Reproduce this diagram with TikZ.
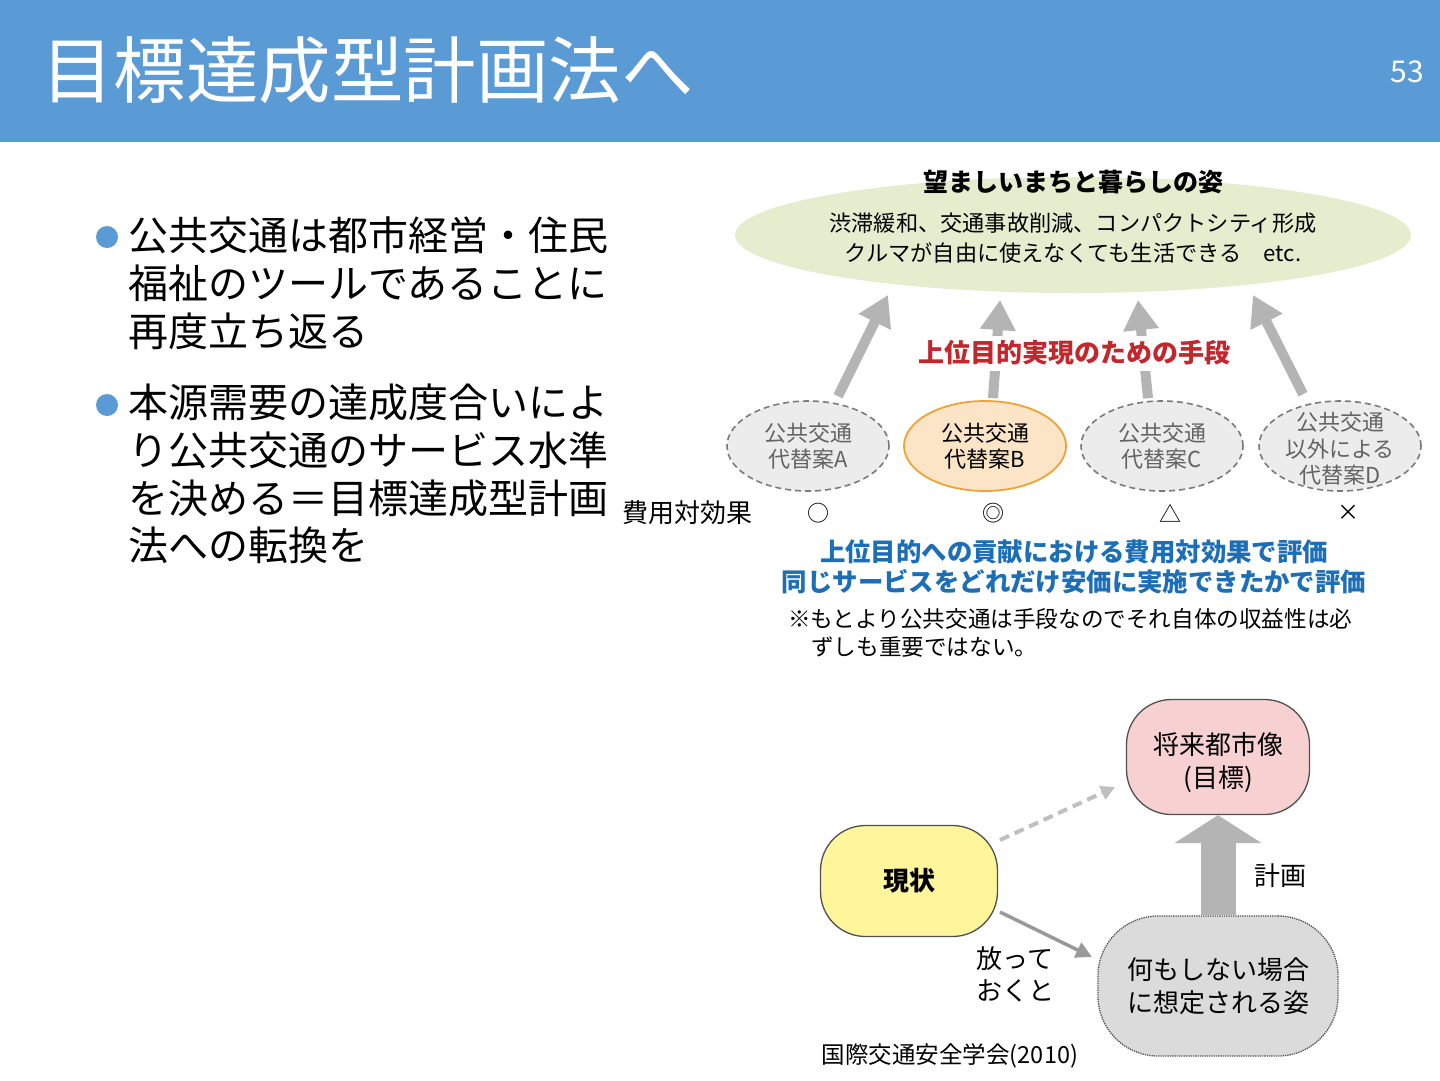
\documentclass[tikz,border=0pt]{standalone}
\usepackage{fontspec}
\setmainfont{Noto Sans CJK JP}
\usetikzlibrary{arrows.meta,shapes.geometric}
\definecolor{barblue}{HTML}{5B9BD5}
\definecolor{greenfill}{HTML}{E6EDCF}
\definecolor{arrgray}{HTML}{B4B4B4}
\definecolor{altfill}{HTML}{ECECEC}
\definecolor{altline}{HTML}{7A7A7A}
\definecolor{alttext}{HTML}{636363}
\definecolor{bfill}{HTML}{FCE4C6}
\definecolor{bline}{HTML}{EFA236}
\definecolor{redtxt}{HTML}{C1272D}
\definecolor{bluetxt}{HTML}{1C6EB6}
\definecolor{pinkfill}{HTML}{F7D1D2}
\definecolor{yelfill}{HTML}{FFF59B}
\definecolor{grayfill}{HTML}{DBDBDB}
\definecolor{blobline}{HTML}{505050}
\tikzset{
  fs/.style 2 args={font=\fontsize{#1}{#2}\selectfont},
  altell/.style={ellipse, draw=altline, dashed, dash pattern=on 6pt off 4pt, line width=1.6pt, fill=altfill,
    text=alttext, minimum width=162pt, minimum height=90pt, inner sep=0pt, align=center, fs={22}{26}},
  uparrow/.style={draw=arrgray, line width=10pt, -{Triangle[width=34pt,length=30pt]}},
  blob/.style={rectangle, rounded corners=45pt, draw=blobline, line width=1.3pt, align=center, inner sep=0pt},
  plain/.style={inner sep=0pt, align=center}
}
\begin{document}
\begin{tikzpicture}[x=1pt,y=-1pt]
\useasboundingbox (0,0) rectangle (1440,1080);
\fill[white] (0,0) rectangle (1440,1080);
% title bar
\fill[barblue] (0,0) rectangle (1440,142);
\node[plain, anchor=west, text=white, fs={72.5}{80}] (title) at (41,70) {目標達成型計画法へ};
\node[plain, anchor=east, text=white, fs={30}{34}] (pnum) at (1424,72) {53};
% bullets
\fill[barblue] (107,237) circle (11);
\fill[barblue] (107,405) circle (11);
\node[plain, anchor=north west, align=left, fs={40}{48}] (b1) at (128,216) {公共交通は都市経営・住民\\福祉のツールであることに\\再度立ち返る};
\node[plain, anchor=north west, align=left, fs={40}{47.7}] (b2) at (128,384) {本源需要の達成度合いによ\\り公共交通のサービス水準\\を決める＝目標達成型計画\\法への転換を};
% top ellipse
\node[ellipse, fill=greenfill, minimum width=676pt, minimum height=116pt, inner sep=0pt] (goal) at (1073,235) {};
\node[plain, font=\fontsize{25}{28}\selectfont\bfseries] (goaltitle) at (1073,182) {望ましいまちと暮らしの姿};
\node[plain, fs={22.2}{30}] (goaltext) at (1073,238) {渋滞緩和、交通事故削減、コンパクトシティ形成\\クルマが自由に使えなくても生活できる　etc.};
% alternatives
\node[altell] (A) at (808,446) {公共交通\\代替案A};
\node[ellipse, draw=bline, line width=1.8pt, fill=bfill, minimum width=162pt, minimum height=90pt, inner sep=0pt, align=center, fs={22}{26}] (B) at (985,446) {公共交通\\代替案B};
\node[altell] (C) at (1162,446) {公共交通\\代替案C};
\node[altell] (D) at (1340,446) {};
\node[plain, text=alttext, fs={22}{26.5}] (Dtext) at ([yshift=-3pt]D.center) {公共交通\\以外による\\代替案D};
% arrows up
\coordinate (gA) at (888,295);
\coordinate (gB) at (1000,300);
\coordinate (gC) at (1138,300);
\coordinate (gD) at (1253,295);
\draw[uparrow] (A.north) ++(30,-4) coordinate (sA) (sA) -- (gA);
\draw[uparrow] (B.north) ++(8,-2) coordinate (sB) (sB) -- (gB);
\draw[uparrow] (C.north) ++(-14,-2) coordinate (sC) (sC) -- (gC);
\draw[uparrow] (D.north) ++(-37,-6) coordinate (sD) (sD) -- (gD);
\node[plain, fill=white, inner xsep=2pt, inner ysep=5pt, text=redtxt, font=\fontsize{26}{28}\selectfont\bfseries] (means) at (1074,353) {上位目的実現のための手段};
% cost effectiveness
\node[plain, fs={26}{28}] (ce) at (687,513) {費用対効果};
\node[plain, fs={22}{26}] (sA2) at (818,513) {○};
\node[plain, fs={22}{26}] (sB2) at (993,513) {◎};
\node[plain, fs={22}{26}] (sC2) at (1170,513) {△};
\node[plain, fs={22}{26}] (sD2) at (1348,513) {×};
\node[plain, text=bluetxt, font=\fontsize{25.4}{29.5}\selectfont\bfseries] (eval) at (1074,567) {上位目的への貢献における費用対効果で評価\\同じサービスをどれだけ安価に実施できたかで評価};
\node[plain, anchor=north west, align=left, fs={22.6}{28}] (note) at (788,608) {※もとより公共交通は手段なのでそれ自体の収益性は必\\\hspace*{23pt}ずしも重要ではない。};
% bottom diagram
\node[blob, fill=pinkfill, minimum width=183pt, minimum height=115pt] (future) at (1218,757) {};
\node[plain, fs={26}{33}] (futuretext) at ([yshift=-6pt]future.center) {将来都市像\\(目標)};
\node[blob, fill=yelfill, minimum width=177pt, minimum height=111pt, font=\fontsize{26}{30}\selectfont\bfseries] (now) at (909,881) {現状};
\node[blob, fill=grayfill, draw=blobline, densely dotted, rounded corners=60pt, minimum width=240pt, minimum height=140pt, fs={26}{33}] (none) at (1218,986) {何もしない場合\\に想定される姿};
\coordinate (dstart) at (1000,840);
\coordinate (dend) at (1115,787);
\draw[draw=arrgray!85, line width=4pt, dash pattern=on 10pt off 6pt, -{Triangle[width=14pt,length=14pt]}] (dstart) -- (dend);
\coordinate (sstart) at (1000,912);
\coordinate (send) at (1092,957);
\draw[draw=gray!80, line width=3.5pt, -{Triangle[width=16pt,length=16pt]}] (sstart) -- (send);
\draw[draw=arrgray, line width=35pt, -{Triangle[width=86pt,length=28pt]}] (none.north) -- (future.south);
\node[plain, fs={26}{30}] (plan) at (1280,876) {計画};
\node[plain, fs={26}{32}] (leave) at (1015,974) {放って\\おくと};
\node[plain, fs={23.5}{26}] (src) at (950,1056) {国際交通安全学会(2010)};
\end{tikzpicture}
\end{document}
